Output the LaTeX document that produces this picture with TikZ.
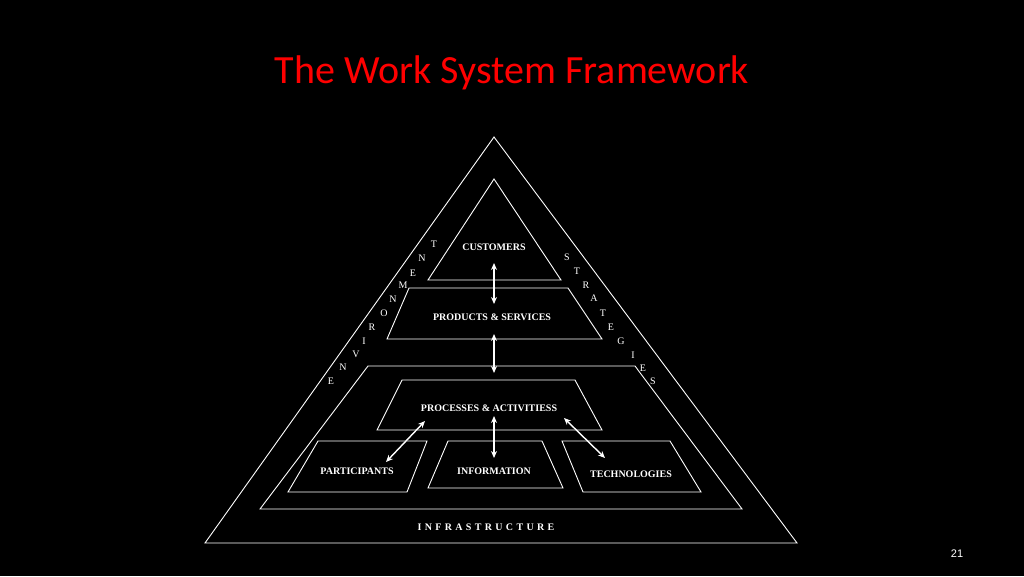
\documentclass[tikz,border=0pt]{standalone}
\usepackage{fontspec}
\setmainfont{Liberation Serif}
\newfontfamily\titlefont{Carlito}
\newfontfamily\numfont{Liberation Sans}
\usetikzlibrary{arrows.meta}
\begin{document}
\begin{tikzpicture}[x=1pt,y=-1pt,
  shp/.style={draw=white,line width=0.9pt,line join=miter},
  lbl/.style={text=white,font=\bfseries\fontsize{10}{12}\selectfont,inner sep=0pt},
  ltr/.style={text=white,font=\fontsize{10}{12}\selectfont,inner sep=0pt},
  dbl/.style={draw=white,line width=1.4pt,{Stealth[length=7pt,width=6pt]}-{Stealth[length=7pt,width=6pt]}}]
\fill[black] (0,0) rectangle (1024,576);
\useasboundingbox (0,0) rectangle (1024,576);
\node[text=red,font=\titlefont\fontsize{40}{44}\selectfont] (title) at (512,73) {The Work System Framework};
\draw[shp] (494,137) -- (205,543) -- (797,543) -- cycle;
\draw[shp] (494,179) -- (428,280) -- (561,280) -- cycle;
\draw[shp] (409,288) -- (568,288) -- (602,339) -- (387,339) -- cycle;
\draw[shp] (368,366) -- (635,366) -- (742,509) -- (260,509) -- cycle;
\draw[shp] (402,380) -- (575,380) -- (602,430) -- (377,430) -- cycle;
\draw[shp] (318,441) -- (427,441) -- (407,492) -- (288,492) -- cycle;
\draw[shp] (448,441) -- (542,441) -- (563,488) -- (428,488) -- cycle;
\draw[shp] (562,441) -- (670,441) -- (701,492) -- (583,492) -- cycle;
\node[lbl] (cust) at (494,247) {CUSTOMERS};
\node[lbl] (prod) at (492,317) {PRODUCTS \& SERVICES};
\node[lbl] (proc) at (489,408) {PROCESSES \& ACTIVITIESS};
\node[lbl] (part) at (357,471) {PARTICIPANTS};
\node[lbl] (info) at (494,471) {INFORMATION};
\node[lbl] (tech) at (631,474) {TECHNOLOGIES};
\node[lbl] (infra) at (486,527) {I\,\,N\,\,F\,\,R\,\,A\,\,S\,\,T\,\,R\,\,U\,\,C\,\,T\,\,U\,\,R\,\,E};
\coordinate (a1) at (494,263); \coordinate (a2) at (494,304);
\coordinate (b1) at (494,334); \coordinate (b2) at (494,373);
\coordinate (c1) at (425,421); \coordinate (c2) at (386,462);
\coordinate (d1) at (494,416); \coordinate (d2) at (494,458);
\coordinate (e1) at (564,418); \coordinate (e2) at (605,458);
\draw[dbl] (a1) -- (a2);
\draw[dbl] (b1) -- (b2);
\draw[dbl] (c1) -- (c2);
\draw[dbl] (d1) -- (d2);
\draw[dbl] (e1) -- (e2);
\foreach \t/\x/\y [count=\i] in {E/331/381,N/343/367,V/356/354,I/364/341,R/372/327,O/384/313,N/393/299,M/403/285,E/413/273,N/422/258,T/434/244}
  \node[ltr] (env\i) at (\x,\y) {\t};
\foreach \t/\x/\y [count=\i] in {S/567/257,T/577/271,R/586/285,A/594/298,T/603/313,E/611/327,G/621/341,I/633/355,E/643/368,S/653/381}
  \node[ltr] (str\i) at (\x,\y) {\t};
\node[text=white,font=\numfont\fontsize{11}{13}\selectfont] (num) at (957,554) {21};
\end{tikzpicture}
\end{document}
